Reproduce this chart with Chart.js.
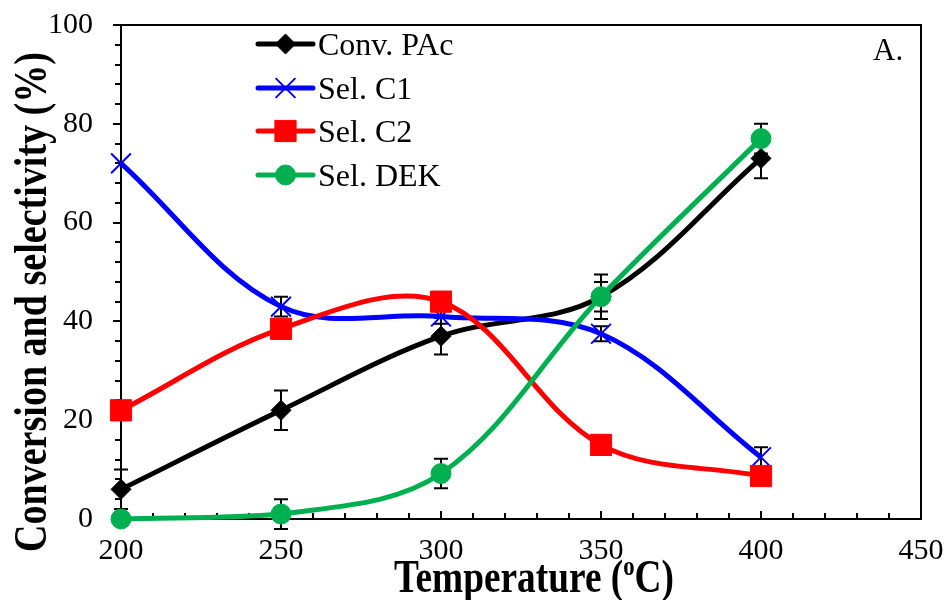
<!DOCTYPE html>
<html>
<head>
<meta charset="utf-8">
<script src="https://cdn.jsdelivr.net/npm/chart.js@4/dist/chart.umd.min.js"></script>
<style>
  html, body { margin: 0; padding: 0; background: #fff; }
  #wrap { width: 947px; height: 600px; position: relative; }
</style>
</head>
<body>
<div id="wrap"><canvas id="c"></canvas></div>
<script>
// Reaction temperature (°C)
const temperatures = [200, 250, 300, 350, 400];

// Conversion of propionic acid and product selectivities (%)
const convPAc = [6, 22, 37, 45, 73];
const selC1   = [72, 43, 41, 37.5, 12.5];
const selC2   = [22, 38.5, 44, 15, 8.7];
const selDEK  = [0, 1, 9.2, 45, 77];

// Error bar half-widths (%)
const convPAcErr = [4, 4, 3.7, 4.5, 4];
const selC1Err   = [0, 2, 1.5, 1.5, 2];
const selC2Err   = [0, 0, 0, 0, 1.5];
const selDEKErr  = [0, 3, 3, 3, 3];

const seriesNames = ['Conv. PAc', 'Sel. C1', 'Sel. C2', 'Sel. DEK'];
const xTicks = [200, 250, 300, 350, 400, 450];
const yTicks = [0, 20, 40, 60, 80, 100];
const panelLabel = 'A.';

const SERIF = '"Liberation Serif", "Times New Roman", serif';

function pts(values) {
  return temperatures.map((t, i) => ({ x: t, y: values[i] }));
}

const styles = [
  { color: '#000000', pointStyle: 'rectRot', radius: 10, pbw: 1 },
  { color: '#0000ff', pointStyle: 'crossRot', radius: 14, pbw: 2 },
  { color: '#ff0000', pointStyle: 'rect', radius: 15, pbw: 1 },
  { color: '#00b050', pointStyle: 'circle', radius: 10, pbw: 1 }
];
const seriesValues = [convPAc, selC1, selC2, selDEK];
const seriesErrors = [convPAcErr, selC1Err, selC2Err, selDEKErr];

const datasets = seriesValues.map((vals, i) => ({
  label: seriesNames[i],
  data: pts(vals),
  errors: seriesErrors[i],
  borderColor: styles[i].color,
  backgroundColor: styles[i].color,
  pointBackgroundColor: styles[i].color,
  pointBorderColor: styles[i].color,
  pointStyle: styles[i].pointStyle,
  pointRadius: styles[i].radius,
  pointHoverRadius: styles[i].radius,
  pointBorderWidth: styles[i].pbw,
  borderWidth: 5,
  tension: 0.35,
  fill: false,
  clip: false,
  order: seriesValues.length - i
}));

// Frame plus minor/major tick marks
const framePlugin = {
  id: 'frameTicks',
  beforeDatasetsDraw(chart) {
    const { ctx, chartArea: a, scales: { x, y } } = chart;
    ctx.save();
    ctx.strokeStyle = '#000';
    ctx.lineWidth = 2;
    ctx.strokeRect(a.left, a.top, a.right - a.left, a.bottom - a.top);
    ctx.beginPath();
    for (let v = y.min; v <= y.max + 1e-9; v += 4) {
      const py = Math.round(y.getPixelForValue(v));
      const len = (v % 20 === 0) ? 8 : 6;
      ctx.moveTo(a.left - len, py);
      ctx.lineTo(a.left, py);
    }
    for (let v = x.min; v <= x.max + 1e-9; v += 10) {
      const px = Math.round(x.getPixelForValue(v));
      const len = (v % 50 === 0) ? 8 : 6;
      ctx.moveTo(px, a.bottom);
      ctx.lineTo(px, a.bottom - len);
    }
    ctx.stroke();
    ctx.restore();
  }
};

// Error bars, drawn just below each series
const errorBarPlugin = {
  id: 'errorBars',
  beforeDatasetDraw(chart, args) {
    const ds = chart.data.datasets[args.index];
    if (!ds.errors) return;
    const { ctx, scales: { x, y } } = chart;
    ctx.save();
    ctx.strokeStyle = '#000';
    ctx.lineWidth = 2;
    ds.data.forEach((p, i) => {
      const e = ds.errors[i];
      if (!e) return;
      const px = x.getPixelForValue(p.x);
      const top = y.getPixelForValue(p.y + e);
      const bot = y.getPixelForValue(p.y - e);
      ctx.beginPath();
      ctx.moveTo(px, top); ctx.lineTo(px, bot);
      ctx.moveTo(px - 7, top); ctx.lineTo(px + 7, top);
      ctx.moveTo(px - 7, bot); ctx.lineTo(px + 7, bot);
      ctx.stroke();
    });
    ctx.restore();
  }
};

// Legend, panel label and axis titles
const annotatePlugin = {
  id: 'annotate',
  afterDraw(chart) {
    const { ctx } = chart;
    ctx.save();
    // legend
    const lx0 = 258, lx1 = 313, rowY = [44, 88, 131, 175];
    chart.data.datasets.forEach((ds, i) => {
      const yy = rowY[i];
      ctx.strokeStyle = ds.borderColor;
      ctx.lineWidth = 5;
      ctx.lineCap = 'round';
      ctx.beginPath();
      ctx.moveTo(lx0, yy); ctx.lineTo(lx1, yy);
      ctx.stroke();
      ctx.lineCap = 'butt';
      ctx.fillStyle = ds.pointBackgroundColor;
      ctx.strokeStyle = ds.pointBorderColor;
      ctx.lineWidth = ds.pointBorderWidth;
      Chart.helpers.drawPoint(ctx, {
        pointStyle: ds.pointStyle,
        radius: ds.pointRadius,
        rotation: 0,
        borderWidth: ds.pointBorderWidth
      }, (lx0 + lx1) / 2, yy);
      ctx.fillStyle = '#000';
      ctx.font = '32px ' + SERIF;
      ctx.textAlign = 'left';
      ctx.textBaseline = 'alphabetic';
      ctx.fillText(ds.label, 318, yy + 11);
    });

    // panel label
    ctx.fillStyle = '#000';
    ctx.font = '31px ' + SERIF;
    ctx.textAlign = 'left';
    ctx.fillText(panelLabel, 873, 60);

    // x-axis title with superscript o
    const big = 'bold 46px ' + SERIF, small = 'bold 28px ' + SERIF;
    ctx.font = big;
    const p1 = 'Temperature (', p3 = 'C)';
    const w1 = ctx.measureText(p1).width, w3 = ctx.measureText(p3).width;
    ctx.font = small;
    const w2 = ctx.measureText('o').width;
    const totalW = w1 + w2 + w3;
    const sx = 280 / totalW;
    ctx.save();
    ctx.translate(534 - 140, 592);
    ctx.scale(sx, 1);
    ctx.textAlign = 'left';
    ctx.font = big; ctx.fillText(p1, 0, 0);
    ctx.font = small; ctx.fillText('o', w1, -17);
    ctx.font = big; ctx.fillText(p3, w1 + w2, 0);
    ctx.restore();

    // y-axis title
    const yTitle = 'Conversion and selectivity (%)';
    ctx.save();
    ctx.font = 'bold 46px ' + SERIF;
    const wy = ctx.measureText(yTitle).width;
    ctx.translate(46, 302);
    ctx.rotate(-Math.PI / 2);
    ctx.scale(500 / wy, 1);
    ctx.textAlign = 'center';
    ctx.fillText(yTitle, 0, 0);
    ctx.restore();

    ctx.restore();
  }
};

// keep the plot box fixed; label overhang is handled by layout padding
function fixBox(size) {
  return s => {
    if (s.isHorizontal()) s.height = size; else s.width = size;
    s.paddingTop = 0; s.paddingBottom = 0; s.paddingLeft = 0; s.paddingRight = 0;
  };
}

new Chart(document.getElementById('c'), {
  type: 'line',
  data: { datasets },
  plugins: [framePlugin, errorBarPlugin, annotatePlugin],
  options: {
    responsive: true,
    maintainAspectRatio: false,
    animation: false,
    events: [],
    layout: { padding: { top: 25, right: 26, left: 0, bottom: 0 } },
    plugins: { legend: { display: false }, tooltip: { enabled: false } },
    scales: {
      x: {
        type: 'linear',
        min: xTicks[0],
        max: xTicks[xTicks.length - 1],
        afterBuildTicks: s => { s.ticks = xTicks.map(v => ({ value: v })); },
        afterFit: fixBox(81),
        grid: { display: false, drawTicks: false },
        border: { display: false },
        ticks: {
          color: '#000',
          font: { family: SERIF, size: 30 },
          padding: 14,
          maxRotation: 0,
          autoSkip: false,
          callback: v => String(v)
        }
      },
      y: {
        type: 'linear',
        min: yTicks[0],
        max: yTicks[yTicks.length - 1],
        afterBuildTicks: s => { s.ticks = yTicks.map(v => ({ value: v })); },
        afterFit: fixBox(121),
        grid: { display: false, drawTicks: false },
        border: { display: false },
        ticks: {
          color: '#000',
          font: { family: SERIF, size: 30 },
          padding: 28,
          callback: v => String(v)
        }
      }
    }
  }
});
</script>
</body>
</html>
